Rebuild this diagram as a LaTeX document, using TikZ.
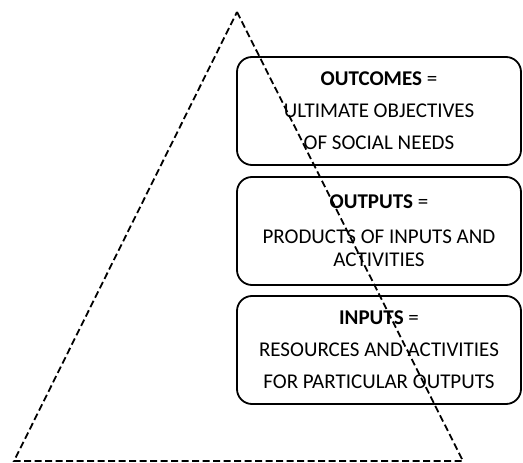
\documentclass[tikz,border=0pt]{standalone}
\usepackage{fontspec}
\setmainfont{Carlito}
\begin{document}
\begin{tikzpicture}[x=1pt,y=-1pt,
  levelbox/.style={draw=black, line width=1.8pt, rounded corners=15pt,
    minimum width=284pt, minimum height=108pt, align=center, inner sep=0pt,
    font=\fontsize{21}{23}\selectfont},
  pyramid/.style={draw=black, line width=1.8pt, dash pattern=on 7pt off 3.5pt}]
  \useasboundingbox (0,0) rectangle (523,463);
  % the three result levels
  \node[levelbox] (outcomes) at (379,111)
    {\textbf{OUTCOMES} =\\[9pt] ULTIMATE OBJECTIVES\\[9pt] OF SOCIAL NEEDS};
  \node[levelbox] (outputs) at (379,231)
    {\textbf{OUTPUTS} =\\[12pt] PRODUCTS OF INPUTS AND\\ ACTIVITIES};
  \node[levelbox] (inputs) at (379,350)
    {\textbf{INPUTS} =\\[9pt] RESOURCES AND ACTIVITIES\\[9pt] FOR PARTICULAR OUTPUTS};
  % dashed pyramid over the levels
  \coordinate (apex) at (237,12);
  \coordinate (baseL) at (14,461);
  \coordinate (baseR) at (463,461);
  \draw[pyramid] (apex) -- (baseR) -- (baseL) -- cycle;
\end{tikzpicture}
\end{document}
